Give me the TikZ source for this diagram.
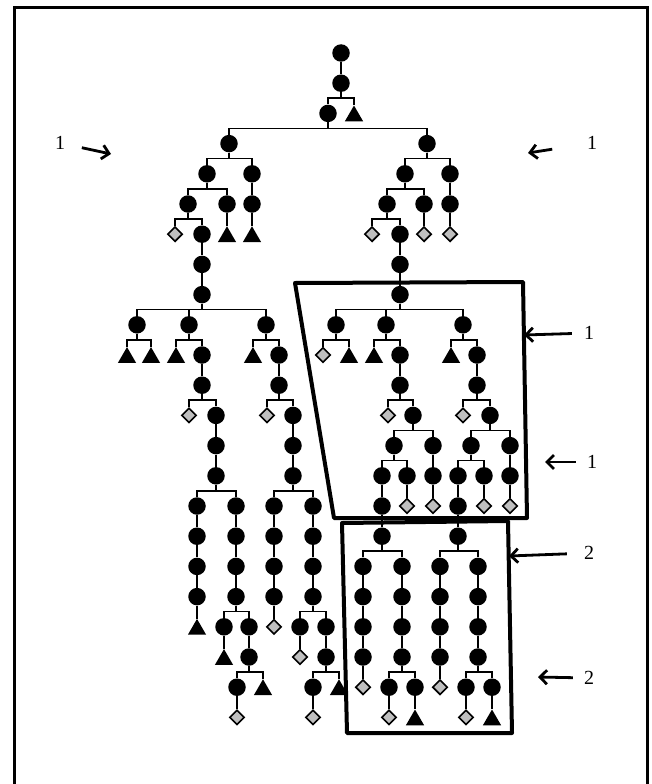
\documentclass[tikz,border=0pt]{standalone}
\usepackage{fontspec}
\setmainfont{Liberation Serif}
\usetikzlibrary{shapes.geometric,arrows.meta}

\tikzset{
  dot/.style={circle,fill=black,inner sep=0pt,minimum size=17.5pt},
  tri/.style={regular polygon,regular polygon sides=3,fill=black,inner sep=0pt,minimum size=21pt,yshift=-2.6pt},
  dia/.style={diamond,draw=black,line width=1.6pt,fill=gray!50,inner sep=0pt,minimum size=15pt},
  link/.style={line width=1.6pt},
  frame/.style={line width=4pt,line join=round},
  lab/.style={font=\fontsize{20}{24}\selectfont,inner sep=0pt},
  pointer/.style={line width=2.8pt,-{Straight Barb[length=7pt,width=14pt]}}
}

\begin{document}
\begin{tikzpicture}[x=1pt,y=-1pt]
\useasboundingbox (0,0) rectangle (652,784);
\draw[line width=3pt] (14,790) -- (14,8) -- (647,8) -- (647,790);

\node[dot] (341-0) at (341,53) {};
\foreach \x/\l/\s/\p in {
 341/1/dot/341-0, 328/2/dot/341-1, 354/2/tri/341-1,
 229/3/dot/328-2, 427/3/dot/328-2,
 207/4/dot/229-3, 252/4/dot/229-3, 405/4/dot/427-3, 450/4/dot/427-3,
 188/5/dot/207-4, 227/5/dot/207-4, 252/5/dot/252-4, 387/5/dot/405-4, 424/5/dot/405-4, 450/5/dot/450-4,
 175/6/dia/188-5, 202/6/dot/188-5, 227/6/tri/227-5, 252/6/tri/252-5, 372/6/dia/387-5, 400/6/dot/387-5, 424/6/dia/424-5, 450/6/dia/450-5,
 202/7/dot/202-6, 400/7/dot/400-6,
 202/8/dot/202-7, 400/8/dot/400-7,
 137/9/dot/202-8, 189/9/dot/202-8, 266/9/dot/202-8, 336/9/dot/400-8, 386/9/dot/400-8, 463/9/dot/400-8,
 127/10/tri/137-9, 151/10/tri/137-9, 176/10/tri/189-9, 202/10/dot/189-9, 253/10/tri/266-9, 279/10/dot/266-9,
 323/10/dia/336-9, 349/10/tri/336-9, 374/10/tri/386-9, 400/10/dot/386-9, 451/10/tri/463-9, 477/10/dot/463-9,
 202/11/dot/202-10, 279/11/dot/279-10, 400/11/dot/400-10, 477/11/dot/477-10,
 189/12/dia/202-11, 216/12/dot/202-11, 267/12/dia/279-11, 293/12/dot/279-11,
 388/12/dia/400-11, 413/12/dot/400-11, 463/12/dia/477-11, 490/12/dot/477-11,
 216/13/dot/216-12, 293/13/dot/293-12, 394/13/dot/413-12, 433/13/dot/413-12, 471/13/dot/490-12, 510/13/dot/490-12,
 216/14/dot/216-13, 293/14/dot/293-13, 382/14/dot/394-13, 407/14/dot/394-13, 433/14/dot/433-13,
 458/14/dot/471-13, 484/14/dot/471-13, 510/14/dot/510-13,
 197/15/dot/216-14, 236/15/dot/216-14, 274/15/dot/293-14, 313/15/dot/293-14, 382/15/dot/382-14,
 407/15/dia/407-14, 433/15/dia/433-14, 458/15/dot/458-14, 484/15/dia/484-14, 510/15/dia/510-14,
 197/16/dot/197-15, 236/16/dot/236-15, 274/16/dot/274-15, 313/16/dot/313-15, 382/16/dot/382-15, 458/16/dot/458-15,
 197/17/dot/197-16, 236/17/dot/236-16, 274/17/dot/274-16, 313/17/dot/313-16,
 363/17/dot/382-16, 402/17/dot/382-16, 440/17/dot/458-16, 478/17/dot/458-16,
 197/18/dot/197-17, 236/18/dot/236-17, 274/18/dot/274-17, 313/18/dot/313-17,
 363/18/dot/363-17, 402/18/dot/402-17, 440/18/dot/440-17, 478/18/dot/478-17,
 197/19/tri/197-18, 224/19/dot/236-18, 249/19/dot/236-18, 274/19/dia/274-18, 300/19/dot/313-18, 326/19/dot/313-18,
 363/19/dot/363-18, 402/19/dot/402-18, 440/19/dot/440-18, 478/19/dot/478-18,
 224/20/tri/224-19, 249/20/dot/249-19, 300/20/dia/300-19, 326/20/dot/326-19,
 363/20/dot/363-19, 402/20/dot/402-19, 440/20/dot/440-19, 478/20/dot/478-19,
 237/21/dot/249-20, 263/21/tri/249-20, 313/21/dot/326-20, 339/21/tri/326-20, 363/21/dia/363-20,
 389/21/dot/402-20, 415/21/dot/402-20, 440/21/dia/440-20, 466/21/dot/478-20, 492/21/dot/478-20,
 237/22/dia/237-21, 313/22/dia/313-21, 389/22/dia/389-21, 415/22/tri/415-21, 466/22/dia/466-21, 492/22/tri/492-21}{
  \node[\s] (\x-\l) at (\x,53+30.2*\l) {};
  \draw[link] (\p) -- ++(0,15) -| (\x-\l);
}

\draw[frame] (295,283) -- (523,282) -- (527,518) -- (334,518) -- cycle;
\draw[frame] (342,523) -- (508,521) -- (512,733) -- (347,733) -- cycle;

\node[lab] (l1) at (60,143) {1};
\node[lab] (r1) at (592,143) {1};
\node[lab] (b1) at (589,333) {1};
\node[lab] (c1) at (592,462) {1};
\node[lab] (b2) at (589,553) {2};
\node[lab] (c2) at (589,678) {2};
\coordinate (tl1) at (111,154);
\coordinate (tr1) at (528,153);
\coordinate (tb1) at (524,335);
\coordinate (tc1) at (545,462);
\coordinate (tb2) at (509,556);
\coordinate (tc2) at (538,677);
\draw[pointer,shorten <=17pt] (l1) -- (tl1);
\draw[pointer,shorten <=35pt] (r1) -- (tr1);
\draw[pointer,shorten <=12pt] (b1) -- (tb1);
\draw[pointer,shorten <=11pt] (c1) -- (tc1);
\draw[pointer,shorten <=17pt] (b2) -- (tb2);
\draw[pointer,shorten <=11pt] (c2) -- (tc2);
\end{tikzpicture}
\end{document}
